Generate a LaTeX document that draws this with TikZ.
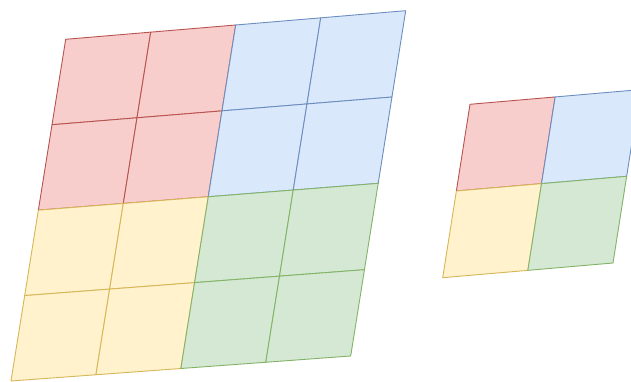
\documentclass[tikz,border=0pt]{standalone}
\usetikzlibrary{calc}
\definecolor{redline}{HTML}{B85450}
\definecolor{redfill}{HTML}{F8CECC}
\definecolor{blueline}{HTML}{6C8EBF}
\definecolor{bluefill}{HTML}{DAE8FC}
\definecolor{yelline}{HTML}{D6B656}
\definecolor{yelfill}{HTML}{FFF2CC}
\definecolor{grnline}{HTML}{82B366}
\definecolor{grnfill}{HTML}{D5E8D4}
\newcommand\gridcell[8]{%
 \pgfmathsetmacro\myua{#6/#5}\pgfmathsetmacro\myub{(#6+1)/#5}%
 \pgfmathsetmacro\myva{#7/#5}\pgfmathsetmacro\myvb{(#7+1)/#5}%
 \draw[#8] ($($(#1)!\myua!(#2)$)!\myva!($(#3)!\myua!(#4)$)$)
  -- ($($(#1)!\myub!(#2)$)!\myva!($(#3)!\myub!(#4)$)$)
  -- ($($(#1)!\myub!(#2)$)!\myvb!($(#3)!\myub!(#4)$)$)
  -- ($($(#1)!\myua!(#2)$)!\myvb!($(#3)!\myua!(#4)$)$) -- cycle;}
\begin{document}
\begin{tikzpicture}[x=1pt,y=-1pt,
  cbase/.style={line width=0.9pt, line join=round},
  cellred/.style={cbase, draw=redline, fill=redfill},
  cellblue/.style={cbase, draw=blueline, fill=bluefill},
  cellyel/.style={cbase, draw=yelline, fill=yelfill},
  cellgrn/.style={cbase, draw=grnline, fill=grnfill}]
\clip (0,0) rectangle (631,382);
% big grid corners
\coordinate (A) at (65.7,39.3);
\coordinate (B) at (405.7,10.7);
\coordinate (C) at (11,381);
\coordinate (D) at (350.7,356);
\foreach \i in {0,1} \foreach \j in {0,1} {\gridcell{A}{B}{C}{D}{4}{\i}{\j}{cellred}}
\foreach \i in {2,3} \foreach \j in {0,1} {\gridcell{A}{B}{C}{D}{4}{\i}{\j}{cellblue}}
\foreach \i in {0,1} \foreach \j in {2,3} {\gridcell{A}{B}{C}{D}{4}{\i}{\j}{cellyel}}
\foreach \i in {2,3} \foreach \j in {2,3} {\gridcell{A}{B}{C}{D}{4}{\i}{\j}{cellgrn}}
% small grid corners
\coordinate (E) at (470,104.3);
\coordinate (F) at (640.3,89.6);
\coordinate (G) at (442.7,277.7);
\coordinate (H) at (613,263);
\gridcell{E}{F}{G}{H}{2}{0}{0}{cellred}
\gridcell{E}{F}{G}{H}{2}{1}{0}{cellblue}
\gridcell{E}{F}{G}{H}{2}{0}{1}{cellyel}
\gridcell{E}{F}{G}{H}{2}{1}{1}{cellgrn}
\end{tikzpicture}
\end{document}
